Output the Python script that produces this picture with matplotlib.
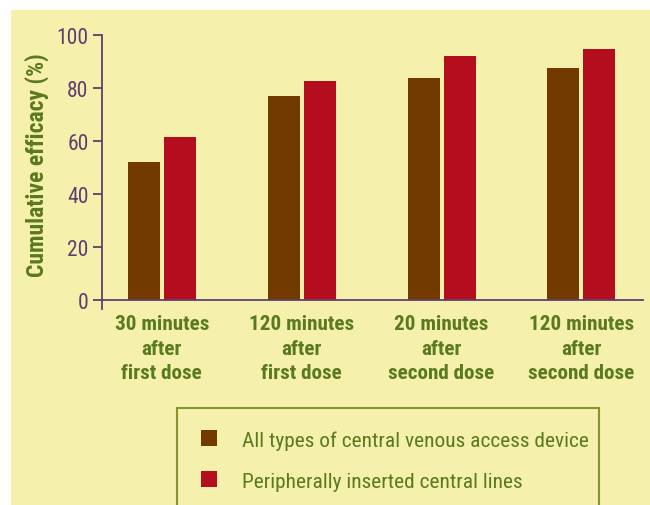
import matplotlib
matplotlib.use("Agg")
import matplotlib.pyplot as plt
from matplotlib.patches import Rectangle
import numpy as np

categories = ["30 minutes\nafter\nfirst dose", "120 minutes\nafter\nfirst dose",
              "20 minutes\nafter\nsecond dose", "120 minutes\nafter\nsecond dose"]
all_cvad = [52, 77, 83.5, 87.5]
picc = [61.5, 82.5, 92, 94.5]
series_names = ["All types of central venous access device", "Peripherally inserted central lines"]
yticks = [0, 20, 40, 60, 80, 100]

plt.rcParams['font.family'] = ['Liberation Sans Narrow', 'Roboto Condensed', 'Open Sans Condensed',
                               'DejaVu Sans Condensed', 'Open Sans', 'DejaVu Sans']

BG = '#F6F0AD'
BROWN = '#733A00'
RED = '#B30D1E'
PURPLE = '#5E3E6E'
GREEN = '#5A7A1E'
LEGEND_EDGE = '#85962F'

W, H = 650, 506
fig = plt.figure(figsize=(W / 100, H / 100), dpi=100, facecolor='white')

# yellow panel
fig.patches.append(Rectangle((11 / W, 0), 1 - 11 / W, 1 - 11 / H, transform=fig.transFigure,
                             facecolor=BG, edgecolor='none', zorder=-10))

left, right = 101.7, 643
top_px, bot_px = 35.7, 310
ax = fig.add_axes([left / W, 1 - bot_px / H, (right - left) / W, (bot_px - top_px) / H])
ax.set_facecolor('none')

for s in ['top', 'right']:
    ax.spines[s].set_visible(False)
ax.spines['bottom'].set_position(('data', 0))
for s in ['left', 'bottom']:
    ax.spines[s].set_color(PURPLE)
    ax.spines[s].set_linewidth(1.3)

x = np.arange(len(categories))
bw = 32 / 140
off = 18 / 140
b1 = ax.bar(x - off, all_cvad, width=bw, color=BROWN, label=series_names[0])
b2 = ax.bar(x + off, picc, width=bw, color=RED, label=series_names[1])

ax.set_xlim(-0.43, 3.44)
ax.set_ylim(-3.4, 100)
ax.set_yticks(yticks)
ax.set_yticklabels([str(v) for v in yticks])
ax.set_xticks(x)
ax.set_xticklabels(categories, fontsize=15.2, fontweight='bold', color=GREEN, linespacing=1.38)

ax.tick_params(axis='y', length=6.5, width=1.3, color=PURPLE, labelcolor=PURPLE,
               labelsize=15.5, pad=3)
ax.tick_params(axis='x', length=0, pad=10)

ax.set_ylabel("Cumulative efficacy (%)", fontsize=17, fontweight='bold', color=GREEN)
ax.yaxis.set_label_coords(-0.098, 0.5286)

# legend
fig.patches.append(Rectangle((177 / W, -0.1), (599 - 177) / W, (1 - 409 / H) + 0.1,
                             transform=fig.transFigure, fill=False, edgecolor=LEGEND_EDGE,
                             linewidth=1.5, zorder=5))
fs = 15.4
fpx = fs * 100 / 72
leg = fig.legend(handles=[b1, b2], labels=series_names, loc='upper left',
                 bbox_to_anchor=(201 / W, 1 - 431 / H), frameon=False, fontsize=fs,
                 handlelength=16 / fpx, handleheight=17 / fpx, handletextpad=25 / fpx,
                 labelspacing=1.0, borderpad=0, borderaxespad=0)
for t in leg.get_texts():
    t.set_color(GREEN)

fig.savefig("out.png", dpi=100, facecolor='white')
